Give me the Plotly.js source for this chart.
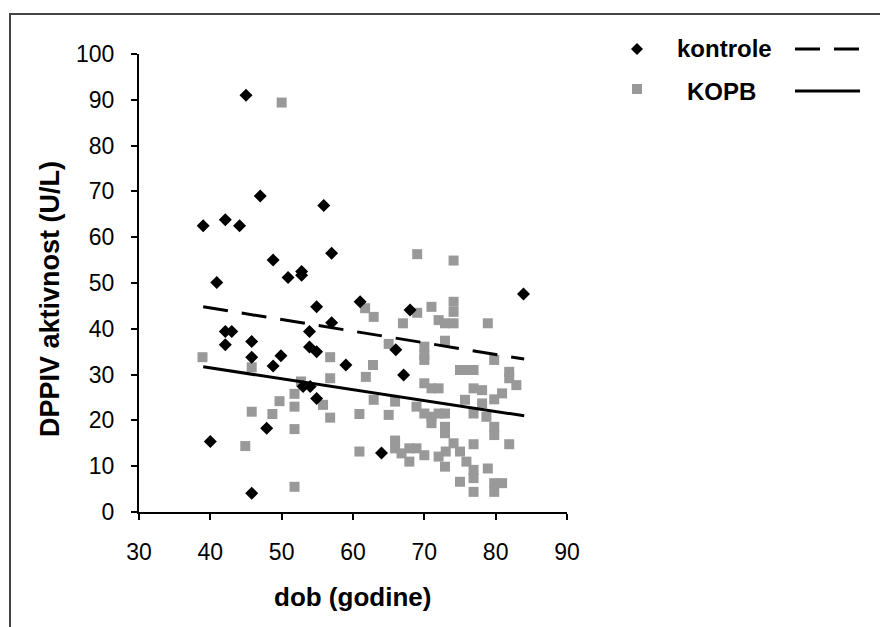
<!DOCTYPE html>
<html>
<head>
<meta charset="utf-8">
<script src="https://cdn.plot.ly/plotly-3.0.1.min.js"></script>
<style>
html,body{margin:0;padding:0;background:#fff;}
#chart{width:880px;height:627px;}
</style>
</head>
<body>
<div id="chart"></div>
<script>
// kontrole (black diamonds)
var kontroleAge = [45, 47, 39, 42.1, 44.1, 55.9, 57, 48.8, 50.9, 52.8, 52.8, 40.9, 42.1, 43, 42.1, 45.8, 45.8, 48.8, 49.9, 54.9, 53.9, 53.9, 54.9, 57, 59, 53, 54, 54.9, 47.9, 40, 45.8, 61, 68, 66, 67.1, 64, 83.9];
var kontroleDPP = [91, 69, 62.5, 63.8, 62.5, 66.9, 56.5, 55, 51.2, 52.5, 51.7, 50.1, 39.4, 39.4, 36.5, 37.2, 33.8, 31.9, 34.1, 44.8, 39.4, 36, 35, 41.3, 32.1, 27.4, 27.4, 24.8, 18.3, 15.4, 4.1, 45.9, 44.1, 35.4, 29.9, 12.9, 47.6];

// KOPB (grey squares)
var kopbAge = [50, 69, 74.1, 38.9, 45.8, 56.8, 56.8, 52.7, 51.8, 51.8, 55.8, 56.8, 49.7, 48.7, 45.8, 51.8, 44.9, 51.8,
  61.7, 62.9, 69, 71, 74.1, 74.1, 72, 72.9, 74.1, 67, 78.9, 65, 72.9, 70, 70, 70, 62.8, 61.8, 75, 75.9, 76.9, 79.8,
  81.9, 81.9, 82.9, 70, 71, 72, 76.9, 78.1, 80.9, 79.8, 62.9, 65.9, 75.7, 68.9, 70, 71, 72, 72.9, 76.9, 78.1, 78.7,
  71, 72.9, 72.9, 79.8, 79.8, 60.9, 65, 60.9, 65.9, 65.9, 66.8, 67.9, 67.9, 68.9, 70, 72, 72.9, 74.1, 75, 75.9, 76.9,
  76.9, 73, 76.9, 78.9, 81.9, 75, 76.9, 79.8, 80.9, 79.8];
var kopbDPP = [89.4, 56.3, 54.9, 33.8, 31.6, 33.8, 29.2, 28.5, 25.8, 23, 23.4, 20.6, 24.2, 21.4, 21.9, 18.1, 14.4, 5.5,
  44.5, 42.6, 43.5, 44.8, 45.9, 43.7, 41.9, 41.2, 41.2, 41.2, 41.2, 36.7, 37.4, 36.1, 34.3, 33.2, 32.1, 29.5, 31, 31, 31, 33.2,
  30.6, 29.2, 27.7, 28.1, 27, 27, 27, 26.6, 25.9, 24.6, 24.5, 24.1, 24.5, 23, 21.5, 20.8, 21.5, 21.5, 21.5, 23.7, 20.8,
  19.4, 18.6, 17.2, 18.6, 16.8, 21.4, 21.2, 13.2, 15.6, 13.9, 12.8, 11, 13.9, 13.9, 12.4, 12.1, 9.9, 15, 13.2, 11, 9.2,
  7.4, 13.2, 14.8, 9.5, 14.8, 6.6, 4.4, 6.3, 6.3, 4.4];

// linear trend lines (end points)
var trendAge = [39, 84];
var kontroleTrend = [44.8, 33.4];
var kopbTrend = [31.7, 21.0];

// axis ticks
var xTicks = [30, 40, 50, 60, 70, 80, 90];
var yTicks = [0, 10, 20, 30, 40, 50, 60, 70, 80, 90, 100];

var traces = [
  {x: kopbAge, y: kopbDPP, mode: 'markers', type: 'scatter', name: 'KOPB',
   marker: {symbol: 'square', size: 10, color: '#999999'}, showlegend: false},
  {x: kontroleAge, y: kontroleDPP, mode: 'markers', type: 'scatter', name: 'kontrole',
   marker: {symbol: 'diamond', size: 10, color: '#000000'}, showlegend: false},
  {x: trendAge, y: kontroleTrend, mode: 'lines', type: 'scatter', name: 'kontrole trend',
   line: {color: '#000', width: 3, dash: '25px,14px'}, showlegend: false},
  {x: trendAge, y: kopbTrend, mode: 'lines', type: 'scatter', name: 'KOPB trend',
   line: {color: '#000', width: 3}, showlegend: false}
];

// pixel helpers for legend decoration (plot area 428 x 458 px)
var W = 428, H = 458, L = 139, T = 54;
function px(x){ return (x - L) / W; }
function py(y){ return (T + H - y) / H; }

var shapes = [
  {type: 'rect', xref: 'paper', yref: 'paper', x0: px(10), x1: px(890), y0: py(14), y1: py(640),
   line: {color: '#444', width: 2}, fillcolor: 'rgba(0,0,0,0)', layer: 'below'},
  {type: 'path', xref: 'paper', yref: 'paper',
   path: 'M ' + px(631) + ' ' + py(49) + ' L ' + px(637) + ' ' + py(43) + ' L ' + px(643) + ' ' + py(49) + ' L ' + px(637) + ' ' + py(55) + ' Z',
   fillcolor: '#000', line: {width: 0}},
  {type: 'rect', xref: 'paper', yref: 'paper', x0: px(632), x1: px(642), y0: py(84), y1: py(94),
   fillcolor: '#999999', line: {width: 0}},
  {type: 'line', xref: 'paper', yref: 'paper', x0: px(795), x1: px(860), y0: py(49), y1: py(49),
   line: {color: '#000', width: 3, dash: '25px,14px'}},
  {type: 'line', xref: 'paper', yref: 'paper', x0: px(795), x1: px(860), y0: py(91), y1: py(91),
   line: {color: '#000', width: 3}}
];

var annotations = [
  {text: 'kontrole', xref: 'paper', yref: 'paper', x: px(724), y: py(48), xanchor: 'center', yanchor: 'middle',
   showarrow: false, font: {family: 'Liberation Sans, Arial, sans-serif', size: 24, color: '#000', weight: 'bold'}},
  {text: 'KOPB', xref: 'paper', yref: 'paper', x: px(721), y: py(91), xanchor: 'center', yanchor: 'middle',
   showarrow: false, font: {family: 'Liberation Sans, Arial, sans-serif', size: 24, color: '#000', weight: 'bold'}},
  {text: 'DPPIV aktivnost (U/L)', xref: 'paper', yref: 'paper', x: px(50), y: py(299), xanchor: 'center', yanchor: 'middle',
   textangle: -90, showarrow: false, font: {family: 'Liberation Sans, Arial, sans-serif', size: 27, color: '#000', weight: 'bold'}},
  {text: 'dob (godine)', xref: 'paper', yref: 'paper', x: px(352), y: py(597), xanchor: 'center', yanchor: 'middle',
   showarrow: false, font: {family: 'Liberation Sans, Arial, sans-serif', size: 26, color: '#000', weight: 'bold'}}
];

var layout = {
  width: 880, height: 627,
  margin: {l: 139, r: 313, t: 54, b: 115, pad: 0},
  paper_bgcolor: '#fff', plot_bgcolor: '#fff',
  showlegend: false,
  xaxis: {range: [30, 90], tickvals: xTicks, ticktext: xTicks.map(String), showgrid: false, zeroline: false,
          showline: true, linecolor: '#000', linewidth: 2, ticks: 'outside', ticklen: 6, tickwidth: 2, tickcolor: '#000',
          ticklabelstandoff: 12,
          tickfont: {family: 'Liberation Sans, Arial, sans-serif', size: 23, color: '#000'}, fixedrange: true},
  yaxis: {range: [0, 100], tickvals: yTicks, ticktext: yTicks.map(String), showgrid: false, zeroline: false,
          showline: true, linecolor: '#000', linewidth: 2, ticks: 'outside', ticklen: 6, tickwidth: 2, tickcolor: '#000',
          ticklabelstandoff: 12,
          tickfont: {family: 'Liberation Sans, Arial, sans-serif', size: 23, color: '#000'}, fixedrange: true},
  shapes: shapes,
  annotations: annotations
};

Plotly.newPlot('chart', traces, layout, {displayModeBar: false, staticPlot: true});
</script>
</body>
</html>
